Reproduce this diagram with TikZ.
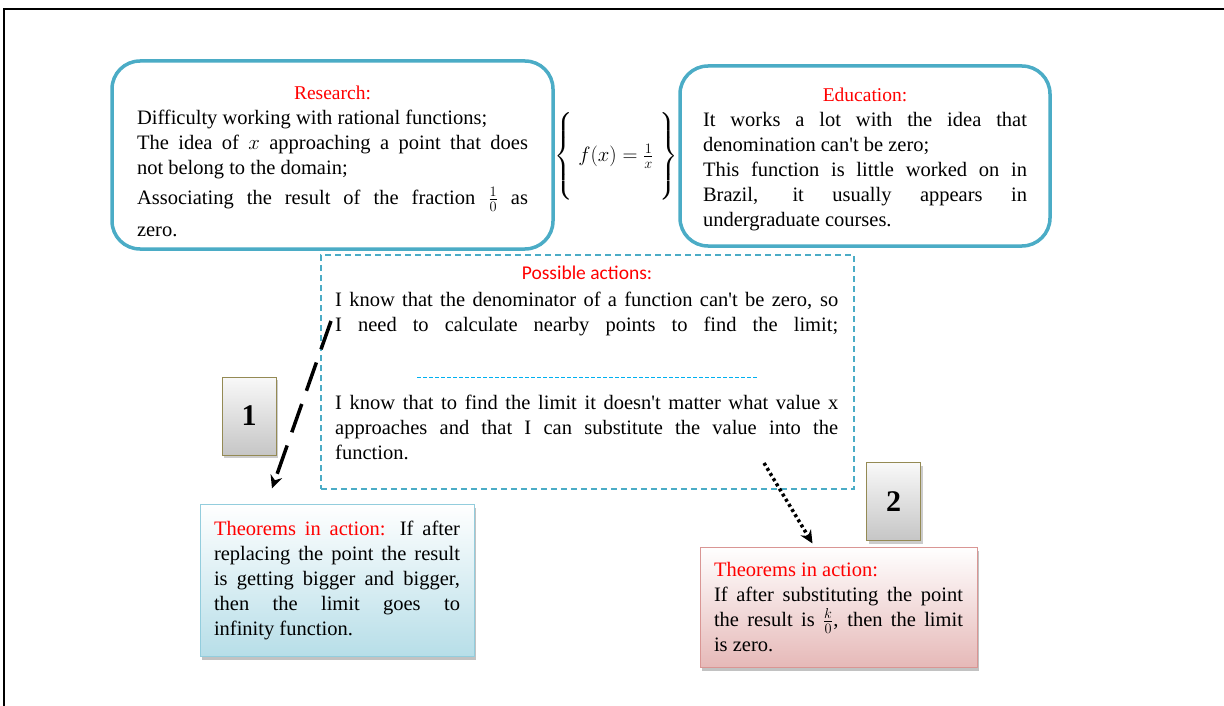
\documentclass[tikz,border=0pt]{standalone}
\usepackage{amsmath}
\usepackage{fontspec}
\setmainfont{Liberation Serif}
\newfontfamily\calibri{Carlito}
\usepackage{xcolor}
\usetikzlibrary{arrows.meta, positioning, calc, shadows}

\definecolor{boxteal}{RGB}{75,172,198}
\definecolor{seplblue}{RGB}{0,176,240}
\definecolor{thmblue}{RGB}{183,222,232}
\definecolor{thmblueline}{RGB}{147,205,221}
\definecolor{thmpink}{RGB}{230,185,184}
\definecolor{thmpinkline}{RGB}{217,150,148}
\definecolor{numline}{RGB}{148,138,84}

\hyphenpenalty=10000
\exhyphenpenalty=10000
\hbadness=10000
\newcommand{\apos}{\textquotesingle}
\newcommand{\titlefont}{\fontsize{19.5}{24}\selectfont}

\tikzset{
  txt/.style={font=\fontsize{20.5}{25}\selectfont, align=justify},
  roundbox/.style={txt, draw=boxteal, line width=3.5pt, rounded corners=28pt, fill=white},
  dashbox/.style={draw=boxteal, line width=1.2pt, dash pattern=on 6pt off 4pt},
  thmbox/.style={txt, draw, line width=1pt, inner xsep=14pt,
    drop shadow={shadow xshift=2pt, shadow yshift=-4pt, fill=black!40, opacity=0.6}},
  numbox/.style={draw=numline, line width=1pt, top color=gray!5, bottom color=gray!45,
    minimum width=54pt, minimum height=78pt, font=\fontsize{30}{30}\selectfont\bfseries,
    drop shadow={shadow xshift=2pt, shadow yshift=-3pt, fill=black!40, opacity=0.5}},
  dasharrow/.style={-{Stealth[length=13pt,width=12pt]}, line width=3.5pt, dash pattern=on 30pt off 14pt},
  dotarrow/.style={-{Stealth[length=13pt,width=12pt]}, line width=3.5pt, dash pattern=on 3pt off 3pt},
}

\begin{document}
\begin{tikzpicture}[x=1pt, y=-1pt, >=Stealth]
    \useasboundingbox (0,0) rectangle (1224,706);

    % Frame
    \coordinate (fbl) at (4,706);
    \coordinate (ftl) at (4,9);
    \coordinate (ftr) at (1224,9);
    \draw[line width=2pt] (fbl) -- (ftl) -- (ftr);

    % Research and education
    \node[roundbox, text width=391pt, inner xsep=25pt, minimum width=441pt, minimum height=188pt] (research) at (332.5,155) {
        {\centering\titlefont\rule{0pt}{26pt}\textcolor{red}{Research:}\par}
        Difficulty working with rational functions;\par
        The idea of $x$ approaching a point that does\linebreak not belong to the domain;\par
        \rule[-12pt]{0pt}{37pt}Associating the result of the fraction $\frac{1}{0}$ as\linebreak \rule{0pt}{19pt}zero.\par};
    \node[roundbox, text width=324pt, inner xsep=23pt, minimum width=370pt, minimum height=180pt] (education) at (865,156) {
        {\centering\titlefont\rule{0pt}{20pt}\textcolor{red}{Education:}\par}
        It works a lot with the idea that\linebreak denomination can\apos t be zero;\par
        This function is little worked on in\linebreak Brazil, it usually appears in\linebreak undergraduate courses.\par};
    \node[font=\fontsize{20.5}{25}\selectfont, inner sep=0pt] (fx) at (616,157) {$\left\{\rule[-40pt]{0pt}{84pt}\; f(x)=\frac{1}{x}\;\right\}$};

    % Possible actions
    \node[dashbox, minimum width=533pt, minimum height=234pt] (actbox) at (587.5,372) {};
    \node[font=\calibri\fontsize{19.5}{22}\selectfont, text=red] (acttitle) at (587,273) {Possible actions:};
    \node[txt, text width=503pt, inner sep=0pt, anchor=north west] (act1) at (335,292) {
        {\parfillskip=0pt I know that the denominator of a function can\apos t be zero, so\linebreak I need to calculate nearby points to find the limit;\par}};
    \coordinate (sepL) at (417,377);
    \coordinate (sepR) at (757,377);
    \draw[seplblue, dash pattern=on 4pt off 2pt, line width=1pt] (sepL) -- (sepR);
    \node[txt, text width=503pt, inner sep=0pt, anchor=north west] (act2) at (335,395) {
        I know that to find the limit it doesn\apos t matter what value x\linebreak approaches and that I can substitute the value into the\linebreak function.};

    % Numbers
    \node[numbox] (num1) at (249,416) {1};
    \node[numbox] (num2) at (893.5,501.5) {2};

    % Theorems in action
    \node[thmbox, draw=thmblueline, top color=white, bottom color=thmblue, text width=246pt,
          minimum width=274pt, minimum height=152pt] (thm1) at (337,580) {
        \textcolor{red}{Theorems in action:} If after\linebreak replacing the point the result\linebreak is getting bigger and bigger,\linebreak then the limit goes to\linebreak infinity function.};
    \node[thmbox, draw=thmpinkline, top color=white, bottom color=thmpink, text width=249pt,
          minimum width=277pt, minimum height=120pt] (thm2) at (838.5,607) {
        \textcolor{red}{Theorems in action:}\par
        If after substituting the point\linebreak the result is $\frac{k}{0}$, then the limit\linebreak is zero.};

    % Arrows
    \coordinate (a1) at (331,321);
    \coordinate (a2) at (764,463);
    \draw[dasharrow] (a1) -- ($(thm1.north)+(-65,-15)$);
    \draw[dotarrow] (a2) -- ($(thm2.north)+(-26,-3)$);
\end{tikzpicture}
\end{document}
